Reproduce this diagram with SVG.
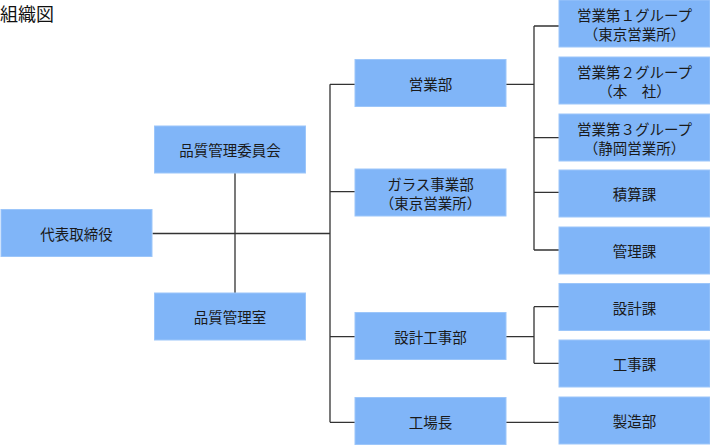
<svg xmlns="http://www.w3.org/2000/svg" width="710" height="445" viewBox="0 0 710 445">
<style>
.box{fill:#80b5f8;stroke:#9cc6fa;stroke-width:1}
.t{font-family:"Noto Sans CJK JP","Noto Sans",sans-serif;font-size:14.5px;fill:#1a1a1a;text-anchor:middle;dominant-baseline:central}
.title{font-family:"Noto Sans CJK JP","Noto Sans",sans-serif;font-size:18px;fill:#111}
.c{stroke:#333;stroke-width:1.3;fill:none}
</style>
<rect width="710" height="445" fill="#fff"/>
<text class="title" x="0" y="21">組織図</text>
<g id="connectors">
<path class="c" d="M152.5,233.5H330M235,173V293M330,84.3V422.3M330,84.3H355M330,191.7H355M330,336.7H355M330,422.3H355M506,84.3H534M534,26V250M534,26H559M534,137.7H559M534,192.3H559M534,250H559M506,336.7H534M534,306.7V363.3M534,306.7H559M534,363.3H559M506,422.3H559"/>
</g>
<g id="n-ceo"><rect class="box" x="1" y="209.5" width="151" height="47"/><text class="t" x="76.5" y="233">代表取締役</text></g>
<g id="n-qc-committee"><rect class="box" x="154.5" y="126" width="151" height="47"/><text class="t" x="230" y="149.5">品質管理委員会</text></g>
<g id="n-qc-office"><rect class="box" x="154.5" y="293" width="151" height="47"/><text class="t" x="230" y="316.5">品質管理室</text></g>
<g id="n-sales"><rect class="box" x="355" y="59.5" width="151" height="47"/><text class="t" x="430.5" y="83">営業部</text></g>
<g id="n-glass"><rect class="box" x="355" y="169" width="151" height="47"/><text class="t" x="430.5" y="183.5">ガラス事業部</text><text class="t" x="430.5" y="202">（東京営業所）</text></g>
<g id="n-design-const"><rect class="box" x="355" y="312.5" width="151" height="47"/><text class="t" x="430.5" y="336">設計工事部</text></g>
<g id="n-factory"><rect class="box" x="355" y="397.5" width="151" height="47"/><text class="t" x="430.5" y="421">工場長</text></g>
<g id="n-g1"><rect class="box" x="559" y="0" width="151" height="47"/><text class="t" x="634.5" y="14.5">営業第１グループ</text><text class="t" x="634.5" y="33">（東京営業所）</text></g>
<g id="n-g2"><rect class="box" x="559" y="57" width="151" height="47"/><text class="t" x="634.5" y="71.5">営業第２グループ</text><text class="t" x="634.5" y="90">（本　社）</text></g>
<g id="n-g3"><rect class="box" x="559" y="114" width="151" height="47"/><text class="t" x="634.5" y="128.5">営業第３グループ</text><text class="t" x="634.5" y="147">（静岡営業所）</text></g>
<g id="n-estimate"><rect class="box" x="559" y="170" width="151" height="47"/><text class="t" x="634.5" y="193.5">積算課</text></g>
<g id="n-admin"><rect class="box" x="559" y="227" width="151" height="47"/><text class="t" x="634.5" y="250.5">管理課</text></g>
<g id="n-design"><rect class="box" x="559" y="283.5" width="151" height="47"/><text class="t" x="634.5" y="307">設計課</text></g>
<g id="n-const"><rect class="box" x="559" y="340" width="151" height="47"/><text class="t" x="634.5" y="363.5">工事課</text></g>
<g id="n-mfg"><rect class="box" x="559" y="397" width="151" height="47"/><text class="t" x="634.5" y="420.5">製造部</text></g>
</svg>
